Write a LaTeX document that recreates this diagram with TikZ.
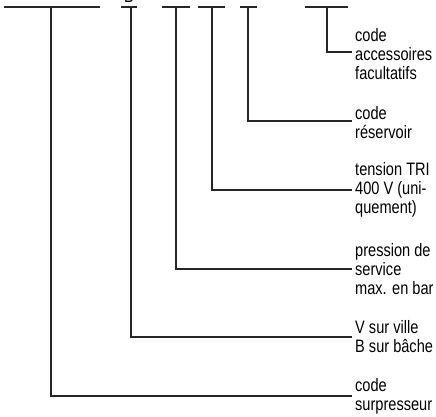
\documentclass[tikz,border=0pt]{standalone}
\usepackage{fontspec}
\setmainfont{Liberation Sans}[FakeStretch=0.81]
\usetikzlibrary{positioning}
\tikzset{
  codebar/.style={
    line width=1.1pt,
    draw=black!85,
  },
  legend/.style={
    anchor=west,
    align=left,
    inner sep=3pt,
    font=\fontsize{18}{19}\selectfont,
  },
}

\begin{document}
\begin{tikzpicture}[x=1pt,y=-1pt]
\useasboundingbox (0,0) rectangle (436,416);

% code fields on top
\foreach \n/\l/\r/\s in {1/4/100/51, 2/121/137/131, 3/162/190/176,
                         4/198/225/212, 5/240/257/248, 6/305/348/327}{
  \draw[codebar] (\l,7) -- (\r,7);
  \coordinate (stem\n) at (\s,7);
}
\node[legend, anchor=south] (vb) at (129,6) {B};

% legends
\node[legend] (acc) at (352,54) {code\\accessoires\\facultatifs};
\node[legend] (res) at (352,123) {code\\réservoir};
\node[legend] (tri) at (352,190) {tension TRI\\400 V (uni-\\quement)};
\node[legend] (bar) at (352,269) {pression de\\service\\max. en bar};
\node[legend] (vil) at (352,337) {V sur ville\\B sur bâche};
\node[legend] (sur) at (352,396) {code\\surpresseur};

\begin{scope}[codebar]
\draw (stem6) |- ([yshift=2pt]acc.west);
\draw (stem5) |- ([yshift=2pt]res.west);
\draw (stem4) |- (tri.west);
\draw (stem3) |- (bar.west);
\draw (stem2) |- (vil.west);
\draw (stem1) |- (sur.west);
\end{scope}
\end{tikzpicture}
\end{document}
